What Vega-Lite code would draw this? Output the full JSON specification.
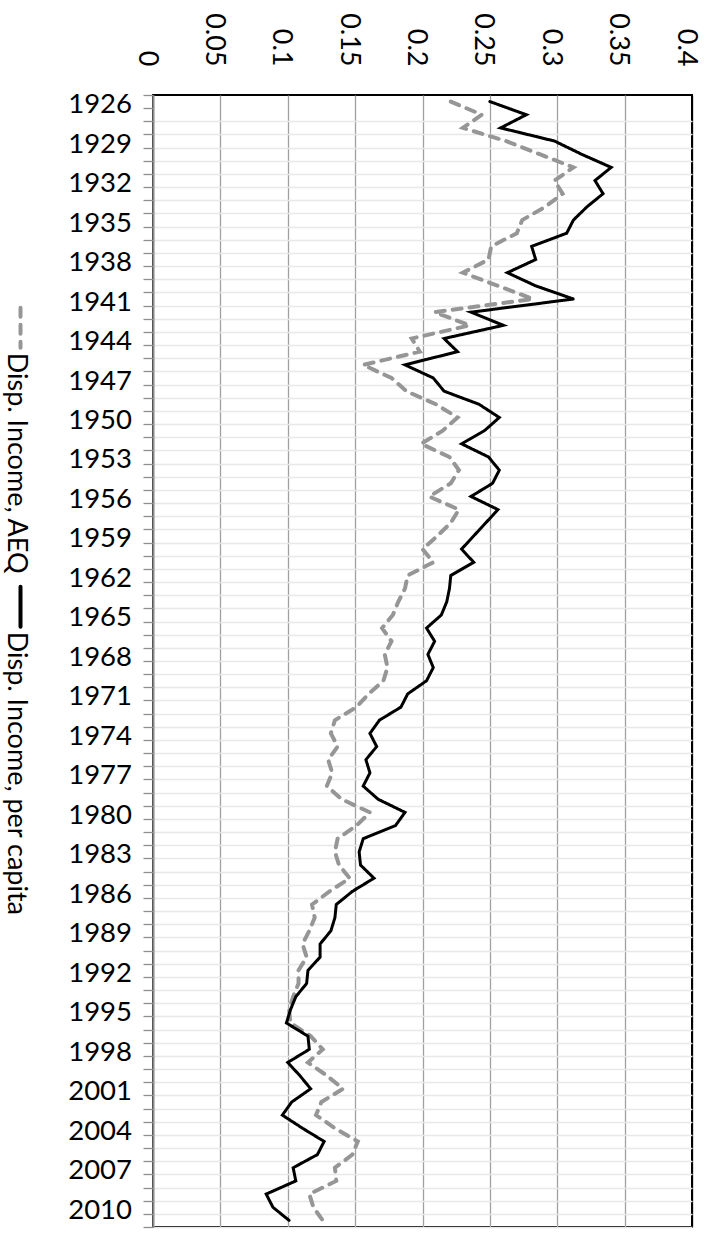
{
  "$schema": "https://vega.github.io/schema/vega-lite/v6.json",
  "padding": {"left": 0, "top": 11, "right": 0, "bottom": 0},
  "bounds": "flush",
  "spacing": 112,
  "background": "#ffffff",
  "config": {
    "font": "Lato",
    "axis": {"labelFont": "Lato", "labelFontSize": 27, "labelColor": "#000000"},
    "text": {"font": "Lato"}
  },
  "datasets": {
    "income": [
      {"year":1926,"series":"Disp. Income, AEQ","value":0.221},{"year":1927,"series":"Disp. Income, AEQ","value":0.244},{"year":1928,"series":"Disp. Income, AEQ","value":0.230},{"year":1929,"series":"Disp. Income, AEQ","value":0.262},{"year":1930,"series":"Disp. Income, AEQ","value":0.287},{"year":1931,"series":"Disp. Income, AEQ","value":0.312},{"year":1932,"series":"Disp. Income, AEQ","value":0.298},{"year":1933,"series":"Disp. Income, AEQ","value":0.304},{"year":1934,"series":"Disp. Income, AEQ","value":0.291},{"year":1935,"series":"Disp. Income, AEQ","value":0.274},{"year":1936,"series":"Disp. Income, AEQ","value":0.270},{"year":1937,"series":"Disp. Income, AEQ","value":0.251},{"year":1938,"series":"Disp. Income, AEQ","value":0.249},{"year":1939,"series":"Disp. Income, AEQ","value":0.230},{"year":1940,"series":"Disp. Income, AEQ","value":0.256},{"year":1941,"series":"Disp. Income, AEQ","value":0.282},{"year":1942,"series":"Disp. Income, AEQ","value":0.209},{"year":1943,"series":"Disp. Income, AEQ","value":0.235},{"year":1944,"series":"Disp. Income, AEQ","value":0.192},{"year":1945,"series":"Disp. Income, AEQ","value":0.198},{"year":1946,"series":"Disp. Income, AEQ","value":0.156},{"year":1947,"series":"Disp. Income, AEQ","value":0.177},{"year":1948,"series":"Disp. Income, AEQ","value":0.188},{"year":1949,"series":"Disp. Income, AEQ","value":0.210},{"year":1950,"series":"Disp. Income, AEQ","value":0.226},{"year":1951,"series":"Disp. Income, AEQ","value":0.215},{"year":1952,"series":"Disp. Income, AEQ","value":0.199},{"year":1953,"series":"Disp. Income, AEQ","value":0.220},{"year":1954,"series":"Disp. Income, AEQ","value":0.227},{"year":1955,"series":"Disp. Income, AEQ","value":0.221},{"year":1956,"series":"Disp. Income, AEQ","value":0.205},{"year":1957,"series":"Disp. Income, AEQ","value":0.227},{"year":1958,"series":"Disp. Income, AEQ","value":0.221},{"year":1959,"series":"Disp. Income, AEQ","value":0.211},{"year":1960,"series":"Disp. Income, AEQ","value":0.200},{"year":1961,"series":"Disp. Income, AEQ","value":0.208},{"year":1962,"series":"Disp. Income, AEQ","value":0.189},{"year":1963,"series":"Disp. Income, AEQ","value":0.187},{"year":1964,"series":"Disp. Income, AEQ","value":0.182},{"year":1965,"series":"Disp. Income, AEQ","value":0.178},{"year":1966,"series":"Disp. Income, AEQ","value":0.170},{"year":1967,"series":"Disp. Income, AEQ","value":0.177},{"year":1968,"series":"Disp. Income, AEQ","value":0.172},{"year":1969,"series":"Disp. Income, AEQ","value":0.174},{"year":1970,"series":"Disp. Income, AEQ","value":0.171},{"year":1971,"series":"Disp. Income, AEQ","value":0.160},{"year":1972,"series":"Disp. Income, AEQ","value":0.151},{"year":1973,"series":"Disp. Income, AEQ","value":0.135},{"year":1974,"series":"Disp. Income, AEQ","value":0.132},{"year":1975,"series":"Disp. Income, AEQ","value":0.137},{"year":1976,"series":"Disp. Income, AEQ","value":0.130},{"year":1977,"series":"Disp. Income, AEQ","value":0.133},{"year":1978,"series":"Disp. Income, AEQ","value":0.129},{"year":1979,"series":"Disp. Income, AEQ","value":0.140},{"year":1980,"series":"Disp. Income, AEQ","value":0.161},{"year":1981,"series":"Disp. Income, AEQ","value":0.151},{"year":1982,"series":"Disp. Income, AEQ","value":0.137},{"year":1983,"series":"Disp. Income, AEQ","value":0.135},{"year":1984,"series":"Disp. Income, AEQ","value":0.138},{"year":1985,"series":"Disp. Income, AEQ","value":0.146},{"year":1986,"series":"Disp. Income, AEQ","value":0.131},{"year":1987,"series":"Disp. Income, AEQ","value":0.118},{"year":1988,"series":"Disp. Income, AEQ","value":0.120},{"year":1989,"series":"Disp. Income, AEQ","value":0.116},{"year":1990,"series":"Disp. Income, AEQ","value":0.111},{"year":1991,"series":"Disp. Income, AEQ","value":0.114},{"year":1992,"series":"Disp. Income, AEQ","value":0.108},{"year":1993,"series":"Disp. Income, AEQ","value":0.108},{"year":1994,"series":"Disp. Income, AEQ","value":0.104},{"year":1995,"series":"Disp. Income, AEQ","value":0.101},{"year":1996,"series":"Disp. Income, AEQ","value":0.102},{"year":1997,"series":"Disp. Income, AEQ","value":0.117},{"year":1998,"series":"Disp. Income, AEQ","value":0.126},{"year":1999,"series":"Disp. Income, AEQ","value":0.115},{"year":2000,"series":"Disp. Income, AEQ","value":0.129},{"year":2001,"series":"Disp. Income, AEQ","value":0.141},{"year":2002,"series":"Disp. Income, AEQ","value":0.125},{"year":2003,"series":"Disp. Income, AEQ","value":0.121},{"year":2004,"series":"Disp. Income, AEQ","value":0.135},{"year":2005,"series":"Disp. Income, AEQ","value":0.152},{"year":2006,"series":"Disp. Income, AEQ","value":0.148},{"year":2007,"series":"Disp. Income, AEQ","value":0.135},{"year":2008,"series":"Disp. Income, AEQ","value":0.136},{"year":2009,"series":"Disp. Income, AEQ","value":0.116},{"year":2010,"series":"Disp. Income, AEQ","value":0.119},{"year":2011,"series":"Disp. Income, AEQ","value":0.126},
      {"year":1926,"series":"Disp. Income, per capita","value":0.250},{"year":1927,"series":"Disp. Income, per capita","value":0.277},{"year":1928,"series":"Disp. Income, per capita","value":0.258},{"year":1929,"series":"Disp. Income, per capita","value":0.298},{"year":1930,"series":"Disp. Income, per capita","value":0.318},{"year":1931,"series":"Disp. Income, per capita","value":0.340},{"year":1932,"series":"Disp. Income, per capita","value":0.328},{"year":1933,"series":"Disp. Income, per capita","value":0.334},{"year":1934,"series":"Disp. Income, per capita","value":0.322},{"year":1935,"series":"Disp. Income, per capita","value":0.312},{"year":1936,"series":"Disp. Income, per capita","value":0.307},{"year":1937,"series":"Disp. Income, per capita","value":0.281},{"year":1938,"series":"Disp. Income, per capita","value":0.284},{"year":1939,"series":"Disp. Income, per capita","value":0.263},{"year":1940,"series":"Disp. Income, per capita","value":0.284},{"year":1941,"series":"Disp. Income, per capita","value":0.312},{"year":1942,"series":"Disp. Income, per capita","value":0.236},{"year":1943,"series":"Disp. Income, per capita","value":0.260},{"year":1944,"series":"Disp. Income, per capita","value":0.216},{"year":1945,"series":"Disp. Income, per capita","value":0.226},{"year":1946,"series":"Disp. Income, per capita","value":0.187},{"year":1947,"series":"Disp. Income, per capita","value":0.208},{"year":1948,"series":"Disp. Income, per capita","value":0.216},{"year":1949,"series":"Disp. Income, per capita","value":0.242},{"year":1950,"series":"Disp. Income, per capita","value":0.257},{"year":1951,"series":"Disp. Income, per capita","value":0.246},{"year":1952,"series":"Disp. Income, per capita","value":0.229},{"year":1953,"series":"Disp. Income, per capita","value":0.249},{"year":1954,"series":"Disp. Income, per capita","value":0.257},{"year":1955,"series":"Disp. Income, per capita","value":0.252},{"year":1956,"series":"Disp. Income, per capita","value":0.236},{"year":1957,"series":"Disp. Income, per capita","value":0.256},{"year":1958,"series":"Disp. Income, per capita","value":0.247},{"year":1959,"series":"Disp. Income, per capita","value":0.238},{"year":1960,"series":"Disp. Income, per capita","value":0.229},{"year":1961,"series":"Disp. Income, per capita","value":0.238},{"year":1962,"series":"Disp. Income, per capita","value":0.221},{"year":1963,"series":"Disp. Income, per capita","value":0.220},{"year":1964,"series":"Disp. Income, per capita","value":0.218},{"year":1965,"series":"Disp. Income, per capita","value":0.214},{"year":1966,"series":"Disp. Income, per capita","value":0.203},{"year":1967,"series":"Disp. Income, per capita","value":0.209},{"year":1968,"series":"Disp. Income, per capita","value":0.204},{"year":1969,"series":"Disp. Income, per capita","value":0.208},{"year":1970,"series":"Disp. Income, per capita","value":0.203},{"year":1971,"series":"Disp. Income, per capita","value":0.189},{"year":1972,"series":"Disp. Income, per capita","value":0.184},{"year":1973,"series":"Disp. Income, per capita","value":0.168},{"year":1974,"series":"Disp. Income, per capita","value":0.161},{"year":1975,"series":"Disp. Income, per capita","value":0.166},{"year":1976,"series":"Disp. Income, per capita","value":0.158},{"year":1977,"series":"Disp. Income, per capita","value":0.161},{"year":1978,"series":"Disp. Income, per capita","value":0.156},{"year":1979,"series":"Disp. Income, per capita","value":0.167},{"year":1980,"series":"Disp. Income, per capita","value":0.187},{"year":1981,"series":"Disp. Income, per capita","value":0.180},{"year":1982,"series":"Disp. Income, per capita","value":0.156},{"year":1983,"series":"Disp. Income, per capita","value":0.153},{"year":1984,"series":"Disp. Income, per capita","value":0.154},{"year":1985,"series":"Disp. Income, per capita","value":0.164},{"year":1986,"series":"Disp. Income, per capita","value":0.148},{"year":1987,"series":"Disp. Income, per capita","value":0.136},{"year":1988,"series":"Disp. Income, per capita","value":0.135},{"year":1989,"series":"Disp. Income, per capita","value":0.132},{"year":1990,"series":"Disp. Income, per capita","value":0.124},{"year":1991,"series":"Disp. Income, per capita","value":0.124},{"year":1992,"series":"Disp. Income, per capita","value":0.115},{"year":1993,"series":"Disp. Income, per capita","value":0.114},{"year":1994,"series":"Disp. Income, per capita","value":0.106},{"year":1995,"series":"Disp. Income, per capita","value":0.102},{"year":1996,"series":"Disp. Income, per capita","value":0.099},{"year":1997,"series":"Disp. Income, per capita","value":0.115},{"year":1998,"series":"Disp. Income, per capita","value":0.116},{"year":1999,"series":"Disp. Income, per capita","value":0.100},{"year":2000,"series":"Disp. Income, per capita","value":0.109},{"year":2001,"series":"Disp. Income, per capita","value":0.117},{"year":2002,"series":"Disp. Income, per capita","value":0.103},{"year":2003,"series":"Disp. Income, per capita","value":0.096},{"year":2004,"series":"Disp. Income, per capita","value":0.111},{"year":2005,"series":"Disp. Income, per capita","value":0.127},{"year":2006,"series":"Disp. Income, per capita","value":0.122},{"year":2007,"series":"Disp. Income, per capita","value":0.104},{"year":2008,"series":"Disp. Income, per capita","value":0.106},{"year":2009,"series":"Disp. Income, per capita","value":0.084},{"year":2010,"series":"Disp. Income, per capita","value":0.089},{"year":2011,"series":"Disp. Income, per capita","value":0.101}
    ],
    "legendItems": [
      {"series": "Disp. Income, AEQ"},
      {"series": "Disp. Income, per capita"}
    ]
  },
  "hconcat": [
    {
      "width": 41,
      "height": 1132,
      "view": {"stroke": null},
      "data": {"name": "legendItems"},
      "layer": [
        {
          "mark": {"type": "point", "shape": "M0,-1L0,1", "size": 1600, "filled": false, "strokeWidth": 4, "strokeCap": "round", "opacity": 1},
          "encoding": {
            "y": {"field": "series", "type": "nominal", "scale": {"type": "point", "domain": ["Disp. Income, AEQ", "Disp. Income, per capita"], "range": [232.7, 511.7], "padding": 0}, "axis": null},
            "stroke": {"field": "series", "type": "nominal", "scale": {"domain": ["Disp. Income, AEQ", "Disp. Income, per capita"], "range": ["#969696", "#000000"]}, "legend": null},
            "strokeDash": {"field": "series", "type": "nominal", "scale": {"domain": ["Disp. Income, AEQ", "Disp. Income, per capita"], "range": [[9, 8], [1, 0]]}, "legend": null}
          }
        },
        {
          "mark": {"type": "text", "angle": 90, "align": "left", "baseline": "middle", "dx": 25, "dy": 4.7, "font": "Lato", "fontSize": 27, "color": "#000000"},
          "encoding": {
            "y": {"field": "series", "type": "nominal", "scale": {"type": "point", "domain": ["Disp. Income, AEQ", "Disp. Income, per capita"], "range": [232.7, 511.7], "padding": 0}, "axis": null},
            "text": {"field": "series", "type": "nominal"}
          }
        }
      ]
    },
    {
      "width": 539,
      "height": 1132,
      "view": {"stroke": "#000000", "strokeWidth": 2},
      "data": {"name": "income"},
      "mark": {"type": "line", "strokeCap": "round"},
      "encoding": {
        "y": {
          "field": "year", "type": "ordinal",
          "scale": {"type": "band", "paddingInner": 0, "paddingOuter": 0},
          "axis": {
            "orient": "left", "title": null,
            "domain": true, "domainColor": "#8f8f8f", "domainWidth": 2,
            "ticks": true, "tickBand": "extent", "tickSize": 10, "tickColor": "#8f8f8f", "tickWidth": 1.3,
            "grid": true, "gridColor": "#e8e8e8", "gridWidth": 1.5,
            "gridOpacity": {"condition": {"test": "datum.value === 1926 || datum.extra", "value": 0}, "value": 1},
            "labelExpr": "(datum.value - 1926) % 3 === 0 ? datum.label : ''",
            "labelPadding": 11.5, "labelOffset": 3, "labelFont": "Lato", "labelFontSize": 27.5, "labelColor": "#000000"
          }
        },
        "x": {
          "field": "value", "type": "quantitative",
          "scale": {"domain": [0, 0.4], "nice": false, "zero": true},
          "axis": {
            "orient": "top", "title": null,
            "values": [0, 0.05, 0.1, 0.15, 0.2, 0.25, 0.3, 0.35, 0.4],
            "format": "~g",
            "domain": false, "ticks": false,
            "grid": true, "gridWidth": 1.3,
            "gridColor": {"condition": {"test": "datum.value >= 0.4", "value": "#000000"}, "value": "#a0a0a0"},
            "labelAngle": 90, "labelAlign": "right", "labelBaseline": "middle",
            "labelPadding": 29, "labelOffset": -7,
            "labelFont": "Lato", "labelFontSize": 27, "labelColor": "#000000"
          }
        },
        "color": {"field": "series", "type": "nominal", "scale": {"domain": ["Disp. Income, AEQ", "Disp. Income, per capita"], "range": ["#969696", "#000000"]}, "legend": null},
        "strokeDash": {"field": "series", "type": "nominal", "scale": {"domain": ["Disp. Income, AEQ", "Disp. Income, per capita"], "range": [[10, 8], [1, 0]]}, "legend": null},
        "strokeWidth": {"field": "series", "type": "nominal", "scale": {"domain": ["Disp. Income, AEQ", "Disp. Income, per capita"], "range": [4, 3]}, "legend": null},
        "order": {"field": "year", "type": "quantitative"}
      }
    }
  ]
}
